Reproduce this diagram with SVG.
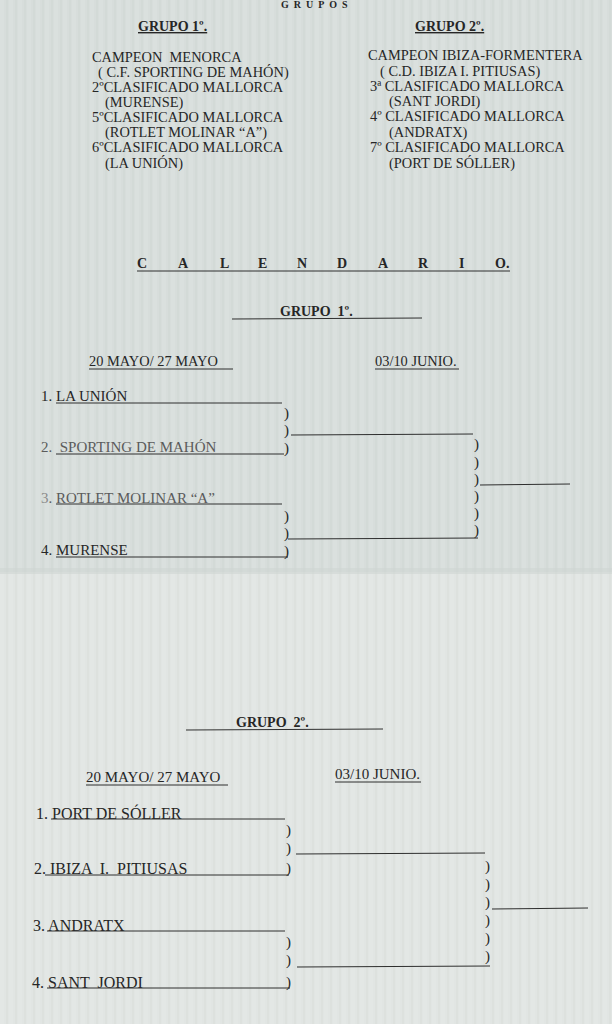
<svg xmlns="http://www.w3.org/2000/svg" width="612" height="1024" viewBox="0 0 612 1024">
<defs>
<pattern id="stripes" x="0" y="0" width="9" height="20" patternUnits="userSpaceOnUse">
<rect x="0" y="0" width="4" height="20" fill="#ffffff" opacity="0.08"/>
<rect x="6" y="0" width="2" height="20" fill="#8a9690" opacity="0.05"/>
</pattern>
</defs>
<style>
text{font-family:"Liberation Serif","Times New Roman",serif;fill:#262626;white-space:pre}
.b{font-size:14.4px}
.h{font-size:14px;font-weight:bold}
.t{font-size:15px}
.u{font-size:16px}
.g{fill:#5b5b5b}
.p{font-size:15px}
line{stroke:#2e2e2e;stroke-width:1}
</style>
<rect width="612" height="1024" fill="#e1e5e3"/>
<rect width="612" height="572" fill="#d7dddb"/>
<rect width="612" height="1024" fill="url(#stripes)"/>
<rect y="568" width="612" height="6" fill="#cfd5d2" opacity="0.6"/>

<g id="titulo-grupos"><text x="281" y="8" font-size="10" font-weight="bold" letter-spacing="5" fill="#555">GRUPOS</text></g>

<g id="grupo1-lista">
<text class="h" x="138" y="31" text-decoration="underline">GRUPO 1º.</text>
<text class="b" x="92" y="62">CAMPEON  MENORCA</text>
<text class="b" x="98" y="77">( C.F. SPORTING DE MAHÓN)</text>
<text class="b" x="92" y="92">2ºCLASIFICADO MALLORCA</text>
<text class="b" x="105" y="107">(MURENSE)</text>
<text class="b" x="92" y="122">5ºCLASIFICADO MALLORCA</text>
<text class="b" x="105" y="137">(ROTLET MOLINAR “A”)</text>
<text class="b" x="92" y="152">6ºCLASIFICADO MALLORCA</text>
<text class="b" x="105" y="168">(LA UNIÓN)</text>
</g>

<g id="grupo2-lista">
<text class="h" x="415" y="31" text-decoration="underline">GRUPO 2º.</text>
<text class="b" x="368" y="60">CAMPEON IBIZA-FORMENTERA</text>
<text class="b" x="380" y="76">( C.D. IBIZA I. PITIUSAS)</text>
<text class="b" x="370" y="91">3ª CLASIFICADO MALLORCA</text>
<text class="b" x="389" y="106">(SANT JORDI)</text>
<text class="b" x="370" y="121">4º CLASIFICADO MALLORCA</text>
<text class="b" x="389" y="137">(ANDRATX)</text>
<text class="b" x="370" y="152">7º CLASIFICADO MALLORCA</text>
<text class="b" x="389" y="168">(PORT DE SÓLLER)</text>
</g>

<g id="calendario">
<text class="h" x="137" y="268">C</text><text class="h" x="178" y="268">A</text><text class="h" x="220" y="268">L</text><text class="h" x="258" y="268">E</text><text class="h" x="297" y="268">N</text><text class="h" x="337" y="268">D</text><text class="h" x="378" y="268">A</text><text class="h" x="418" y="268">R</text><text class="h" x="459" y="268">I</text><text class="h" x="495" y="268">O.</text>
</g>

<g id="cal-grupo1">
<text class="h" x="280" y="316">GRUPO  1º.</text>
<text class="b" x="89" y="366">20 MAYO/ 27 MAYO</text>
<text class="b" x="375" y="366">03/10 JUNIO.</text>
</g>

<g id="g1-equipo1"><text class="t" x="41" y="401">1. LA UNIÓN</text></g>
<g id="g1-equipo2"><text class="t g" x="41" y="452">2.  SPORTING DE MAHÓN</text></g>
<g id="g1-equipo3"><text class="t g" x="41" y="503"><tspan fill="#8a8a8a">3</tspan>. ROTLET MOLINAR “A”</text></g>
<g id="g1-equipo4"><text class="t" x="41" y="555">4. MURENSE</text></g>

<g id="cal-grupo2">
<text class="h" x="236" y="727">GRUPO  2º.</text>
<text class="t" x="86" y="782">20 MAYO/ 27 MAYO</text>
<text class="t" x="335" y="779">03/10 JUNIO.</text>
</g>

<g id="g2-equipo1"><text class="u" x="36" y="819">1. PORT DE SÓLLER</text></g>
<g id="g2-equipo2"><text class="u" x="34" y="874">2. IBIZA  I.  PITIUSAS</text></g>
<g id="g2-equipo3"><text class="u" x="33" y="931">3. ANDRATX</text></g>
<g id="g2-equipo4"><text class="u" x="32" y="988">4. SANT  JORDI</text></g>

<g id="connectors">
<line x1="137" y1="271" x2="510" y2="271" stroke-width="1.3"/>
<line x1="232" y1="319" x2="422" y2="318" stroke-width="1.3"/>
<line x1="89" y1="369" x2="233" y2="369"/>
<line x1="375" y1="369" x2="459" y2="369"/>
<line x1="186" y1="730" x2="383" y2="729" stroke-width="1.3"/>
<line x1="86" y1="785" x2="228" y2="785"/>
<line x1="335" y1="782" x2="421" y2="782"/>

<line x1="56" y1="403" x2="282" y2="403"/>
<line x1="56" y1="454" x2="284" y2="454"/>
<line x1="56" y1="504" x2="282" y2="504"/>
<line x1="56" y1="557" x2="288" y2="557"/>
<line x1="291" y1="435" x2="473" y2="434"/>
<line x1="288" y1="539" x2="478" y2="538"/>
<line x1="480" y1="485" x2="570" y2="484"/>

<line x1="51" y1="819" x2="285" y2="819"/>
<line x1="45" y1="875" x2="289" y2="875"/>
<line x1="47" y1="931" x2="285" y2="931"/>
<line x1="47" y1="988" x2="290" y2="988"/>
<line x1="296" y1="854" x2="485" y2="853"/>
<line x1="297" y1="967" x2="490" y2="966"/>
<line x1="492" y1="909" x2="588" y2="908"/>
</g>

<g id="parentesis">
<text class="p" x="284" y="418">)</text>
<text class="p" x="284" y="435">)</text>
<text class="p" x="284" y="453">)</text>
<text class="p" x="284" y="521">)</text>
<text class="p" x="284" y="538">)</text>
<text class="p" x="284" y="556">)</text>
<text class="p" x="474" y="449">)</text>
<text class="p" x="474" y="467">)</text>
<text class="p" x="474" y="484">)</text>
<text class="p" x="474" y="501">)</text>
<text class="p" x="474" y="518">)</text>
<text class="p" x="474" y="535">)</text>

<text class="p" x="286" y="835">)</text>
<text class="p" x="286" y="853">)</text>
<text class="p" x="286" y="873">)</text>
<text class="p" x="286" y="947">)</text>
<text class="p" x="286" y="965">)</text>
<text class="p" x="286" y="987">)</text>
<text class="p" x="485" y="871">)</text>
<text class="p" x="485" y="889">)</text>
<text class="p" x="485" y="907">)</text>
<text class="p" x="485" y="925">)</text>
<text class="p" x="485" y="943">)</text>
<text class="p" x="485" y="961">)</text>
</g>
</svg>
